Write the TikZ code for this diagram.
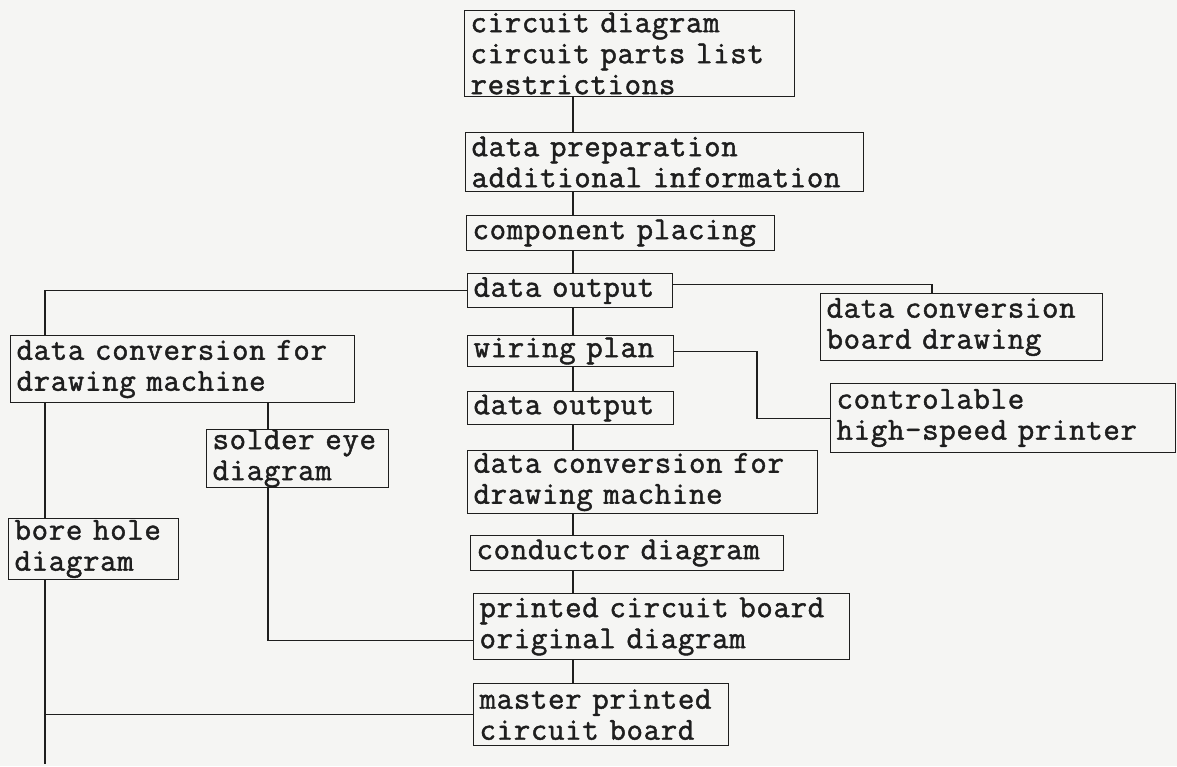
\documentclass[tikz,border=0pt]{standalone}
\usepackage{fontspec}
\newfontfamily\tw{Latin Modern Mono}[FakeBold=1.4, LetterSpace=2]
\definecolor{paper}{RGB}{245,245,243}
\definecolor{ink}{RGB}{30,30,30}
\tikzset{
  box/.style={draw=ink, text=ink, line width=1.1pt, anchor=north west, align=left,
    inner xsep=6pt, inner ysep=0pt, font=\tw\fontsize{32}{31}\selectfont},
  wire/.style={draw=ink, line width=1.1pt}
}
\begin{document}
\begin{tikzpicture}[x=1pt, y=-1pt]
\fill[paper] (0,0) rectangle (1177,766);
\useasboundingbox (0,0) rectangle (1177,766);
% main column
\node[box, text width=318pt, minimum height=86pt] (circuit) at (464,10){circuit diagram\\circuit parts list\\restrictions};
\node[box, text width=386pt, minimum height=59pt] (prep) at (465,132){data preparation\\additional information};
\node[box, text width=296pt, minimum height=35pt] (placing) at (466,215){component placing};
\node[box, text width=193pt, minimum height=34pt] (outA) at (467,273){data output};
\node[box, text width=194pt, minimum height=31pt] (wiring) at (467,335){wiring plan};
\node[box, text width=194pt, minimum height=33pt] (outB) at (467,391){data output};
\node[box, text width=338pt, minimum height=63pt] (convC) at (467,450){data conversion for\\drawing machine};
\node[box, text width=301pt, minimum height=35pt] (cond) at (470,535){conductor diagram};
\node[box, text width=364pt, minimum height=66pt] (pcb) at (473,593){printed circuit board\\original diagram};
\node[box, text width=243pt, minimum height=62pt] (master) at (473,683){master printed\\circuit board};
% left branch
\node[box, text width=332pt, minimum height=67pt] (convL) at (10,335){data conversion for\\drawing machine};
\node[box, text width=170pt, minimum height=56pt] (solder) at (206,429){solder eye\\diagram};
\node[box, text width=158pt, minimum height=61pt] (bore) at (8,518){bore hole\\diagram};
% right branch
\node[box, text width=270pt, minimum height=67pt] (convR) at (820,293){data conversion\\board drawing};
\node[box, text width=333pt, minimum height=69pt] (printer) at (830,383){controlable\\high-speed printer};
\coordinate (spine) at (573,0);
\coordinate (lx) at (45,0);
\coordinate (sx) at (268,0);
\coordinate (rx) at (932,0);
\coordinate (bend) at (757,380);
\coordinate (foot) at (45,764);
\draw[wire](circuit.south -| spine) -- (prep.north -| spine);
\draw[wire](prep.south -| spine) -- (placing.north -| spine);
\draw[wire](placing.south -| spine) -- (outA.north -| spine);
\draw[wire](outA.south -| spine) -- (wiring.north -| spine);
\draw[wire](wiring.south -| spine) -- (outB.north -| spine);
\draw[wire](outB.south -| spine) -- (convC.north -| spine);
\draw[wire](convC.south -| spine) -- (cond.north -| spine);
\draw[wire](cond.south -| spine) -- (pcb.north -| spine);
\draw[wire](pcb.south -| spine) -- (master.north -| spine);
\draw[wire](outA.west) -| (convL.north -| lx);
\draw[wire](convL.south -| lx) -- (bore.north -| lx);
\draw[wire](bore.south -| lx) -- (foot);
\draw[wire](master.west) -- (master.west -| lx);
\draw[wire](convL.south -| sx) -- (solder.north -| sx);
\draw[wire](solder.south -| sx) |- ([yshift=-14pt]pcb.west);
\draw[wire]([yshift=6pt]outA.east) -| (convR.north -| rx);
\draw[wire](wiring.east) -| (bend) |- (printer.west);
\end{tikzpicture}
\end{document}
